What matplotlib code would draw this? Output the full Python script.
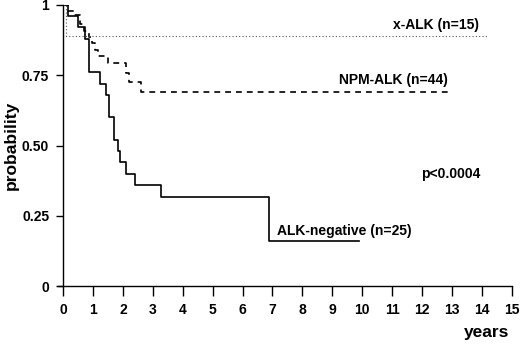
import matplotlib
matplotlib.use("Agg")
import matplotlib.pyplot as plt

plt.rcParams['font.family'] = ['Liberation Sans', 'DejaVu Sans']
plt.rcParams['font.weight'] = 'bold'

# Kaplan-Meier step curves (time in years, survival probability)
neg_times = [0, 0.17, 0.5, 0.72, 0.87, 1.25, 1.43, 1.55, 1.7, 1.84, 1.9, 2.12, 2.42, 3.27, 6.89, 9.9]
neg_surv = [1.0, 0.96, 0.92, 0.88, 0.76, 0.72, 0.68, 0.60, 0.52, 0.48, 0.44, 0.40, 0.36, 0.315, 0.16, 0.16]

npm_times = [0, 0.15, 0.35, 0.56, 0.7, 0.85, 0.97, 1.08, 1.17, 1.5, 2.12, 2.2, 2.62, 13.0]
npm_surv = [1.0, 0.977, 0.964, 0.932, 0.909, 0.886, 0.864, 0.841, 0.82, 0.793, 0.758, 0.727, 0.692, 0.692]

xalk_times = [0, 0.1, 14.2]
xalk_surv = [1.0, 0.89, 0.89]

x_ticks = list(range(0, 16))
y_ticks = [0, 0.25, 0.5, 0.75, 1]
y_tick_labels = ["0", "0.25", "0.50", "0.75", "1"]

fig = plt.figure(figsize=(5.2, 3.48), dpi=100)
ax = fig.add_axes([58 / 520, 1 - 286 / 348, (511.7 - 58) / 520, (286 - 5) / 348])

ax.step(neg_times, neg_surv, where='post', color='black', lw=1.2)
ax.step(npm_times, npm_surv, where='post', color='black', lw=1.2, linestyle=(0, (3.5, 3)))
ax.step(xalk_times, xalk_surv, where='post', color='#555555', lw=0.8, linestyle=(0, (1, 2)))

ax.set_xlim(-0.17, 15)
ax.set_ylim(0, 1)
ax.spines['top'].set_visible(False)
ax.spines['right'].set_visible(False)
ax.spines['left'].set_position(('data', 0))
for s in ('left', 'bottom'):
    ax.spines[s].set_linewidth(1.0)

ax.set_xticks(x_ticks)
ax.set_xticklabels([str(t) for t in x_ticks])
ax.set_yticks(y_ticks)
ax.set_yticklabels(y_tick_labels)
ax.tick_params(axis='x', direction='out', length=7, width=1.0, pad=5, labelsize=10)
ax.tick_params(axis='y', direction='out', length=5, width=1.0, pad=5, labelsize=10)
for lab in ax.get_xticklabels() + ax.get_yticklabels():
    lab.set_fontweight('bold')

ax.text(13.9, 0.93, "x-ALK (n=15)", ha='right', va='center', fontsize=10, fontweight='bold')
ax.text(12.87, 0.733, "NPM-ALK (n=44)", ha='right', va='center', fontsize=10, fontweight='bold')
ax.text(13.96, 0.40, "p<0.0004", ha='right', va='center', fontsize=10, fontweight='bold')
ax.text(7.16, 0.197, "ALK-negative (n=25)", ha='left', va='center', fontsize=10, fontweight='bold')

fig.text(509 / 520, 1 - 332 / 348, "years", ha='right', va='center', fontsize=12.5, fontweight='bold')
fig.text(11 / 520, 1 - 145 / 348, "probability", ha='center', va='center', rotation=90,
         fontsize=12.5, fontweight='bold')

fig.savefig("out.png", dpi=100)
